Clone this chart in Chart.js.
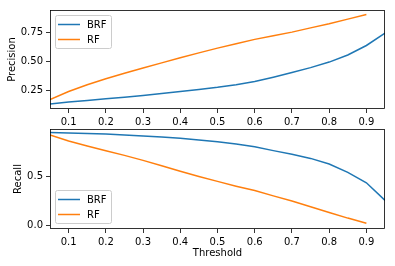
<!DOCTYPE html>
<html><head><meta charset="utf-8">
<script src="https://cdn.jsdelivr.net/npm/chart.js@4/dist/chart.umd.min.js"></script>
<style>
html,body{margin:0;padding:0;background:#fff;width:395px;height:266px;overflow:hidden}
#c1{position:absolute;left:0;top:0}
#c2{position:absolute;left:0;top:120px}
</style></head><body>
<canvas id="c1" width="395" height="128"></canvas>
<canvas id="c2" width="395" height="146"></canvas>
<script>
const thresholds = [0.05,0.10,0.15,0.20,0.25,0.30,0.35,0.40,0.45,0.50,0.55,0.60,0.65,0.70,0.75,0.80,0.85,0.90,0.95];
const precisionBRF = [0.129,0.146,0.160,0.175,0.189,0.203,0.220,0.237,0.256,0.274,0.297,0.324,0.362,0.403,0.445,0.493,0.555,0.637,0.744];
const precisionRF  = [0.168,0.238,0.296,0.348,0.396,0.441,0.486,0.530,0.573,0.614,0.653,0.690,0.722,0.753,0.790,0.825,0.866,0.906];
const recallBRF = [0.950,0.946,0.941,0.935,0.926,0.915,0.904,0.891,0.875,0.856,0.832,0.805,0.765,0.727,0.685,0.627,0.542,0.435,0.254];
const recallRF  = [0.925,0.863,0.812,0.764,0.716,0.665,0.610,0.553,0.500,0.449,0.400,0.355,0.300,0.247,0.188,0.130,0.072,0.020];
const seriesNames = ['BRF','RF'];
const seriesColors = ['#1f77b4','#ff7f0e'];
const xTickValues = [0.1,0.2,0.3,0.4,0.5,0.6,0.7,0.8,0.9];
const xTickLabels = ['0.1','0.2','0.3','0.4','0.5','0.6','0.7','0.8','0.9'];
const precisionTickValues = [0.25,0.50,0.75];
const precisionTickLabels = ['0.25','0.50','0.75'];
const recallTickValues = [0.0,0.5];
const recallTickLabels = ['0.0','0.5'];

const FONT = 'DejaVu Sans';
Chart.defaults.font.family = FONT;
Chart.defaults.font.size = 10;
Chart.defaults.color = '#000';

function pts(vals){ return vals.map((v,i)=>({x:thresholds[i], y:v})); }

const framePlugin = {
  id:'frame',
  afterDraw(chart){
    const {ctx, chartArea:a} = chart;
    ctx.save();
    ctx.strokeStyle = '#000';
    ctx.lineWidth = 0.8;
    ctx.strokeRect(Math.round(a.left)+0.5, Math.round(a.top)+0.5, Math.round(a.right-a.left)-1, Math.round(a.bottom-a.top)-1);
    ctx.restore();
  }
};

const innerLegend = {
  id:'innerLegend',
  afterDraw(chart, args, opts){
    const {ctx, chartArea:a} = chart;
    const x0 = a.left + 5, w = 56, h = 33;
    const y0 = opts.where === 'top' ? a.top + 5 : a.bottom - 6 - h;
    ctx.save();
    ctx.fillStyle = 'rgba(255,255,255,0.8)';
    ctx.strokeStyle = '#cccccc';
    ctx.lineWidth = 1;
    ctx.beginPath();
    if (ctx.roundRect) ctx.roundRect(x0+0.5, y0+0.5, w, h, 2); else ctx.rect(x0+0.5,y0+0.5,w,h);
    ctx.fill(); ctx.stroke();
    chart.data.datasets.forEach((ds,i)=>{
      const yy = y0 + 9.5 + i*15;
      ctx.strokeStyle = ds.borderColor;
      ctx.lineWidth = 1.5;
      ctx.beginPath(); ctx.moveTo(x0+3, yy); ctx.lineTo(x0+25, yy); ctx.stroke();
      ctx.fillStyle = '#000';
      ctx.font = '10px "' + FONT + '"';
      ctx.textBaseline = 'middle';
      ctx.textAlign = 'left';
      ctx.fillText(ds.label, x0+32, yy+0.5);
    });
    ctx.restore();
  }
};

function makeChart(id, series, yTickVals, yTickLabs, yMin, yMax, yTitle, yTitlePad, legendWhere, showXTitle, padTop, xHeight){
  return new Chart(document.getElementById(id), {
    type:'line',
    data:{ datasets: series.map((vals,i)=>({
      label: seriesNames[i], data: pts(vals), borderColor: seriesColors[i], backgroundColor: seriesColors[i],
      borderWidth:1.5, pointRadius:0, tension:0, fill:false
    }))},
    options:{
      responsive:false, animation:false, devicePixelRatio:1,
      layout:{padding:{top:padTop, right:10, left:0, bottom:0}},
      plugins:{legend:{display:false}, tooltip:{enabled:false}, innerLegend:{where:legendWhere}},
      scales:{
        x:{ type:'linear', min:0.05, max:0.95,
            afterBuildTicks(s){ s.ticks = xTickValues.map(v=>({value:v})); },
            afterFit(s){ s.height = xHeight; },
            ticks:{ autoSkip:false, maxRotation:0, padding:3, color:'#000', callback:(v,i)=>xTickLabels[i] },
            grid:{ drawOnChartArea:false, drawTicks:true, tickLength:4, color:'#000', lineWidth:0.8 },
            border:{ display:false },
            title:{ display:showXTitle, text:'Threshold', color:'#000', font:{size:10}, padding:{top:0,bottom:7} }
        },
        y:{ type:'linear', min:yMin, max:yMax,
            afterBuildTicks(s){ s.ticks = yTickVals.map(v=>({value:v})); },
            afterFit(s){ s.width = 50; },
            ticks:{ autoSkip:false, padding:3, color:'#000', callback:(v,i)=>yTickLabs[i] },
            grid:{ drawOnChartArea:false, drawTicks:true, tickLength:4, color:'#000', lineWidth:0.8 },
            border:{ display:false },
            title:{ display:true, text:yTitle, color:'#000', font:{size:10}, padding:{top:yTitlePad,bottom:0} }
        }
      }
    },
    plugins:[framePlugin, innerLegend]
  });
}

makeChart('c1', [precisionBRF, precisionRF], precisionTickValues, precisionTickLabels, 0.086, 0.945, 'Precision', 6, 'top', false, 10, 19);
makeChart('c2', [recallBRF, recallRF], recallTickValues, recallTickLabels, -0.04, 0.987, 'Recall', 12, 'bottom', true, 9, 37);
</script>
</body></html>
